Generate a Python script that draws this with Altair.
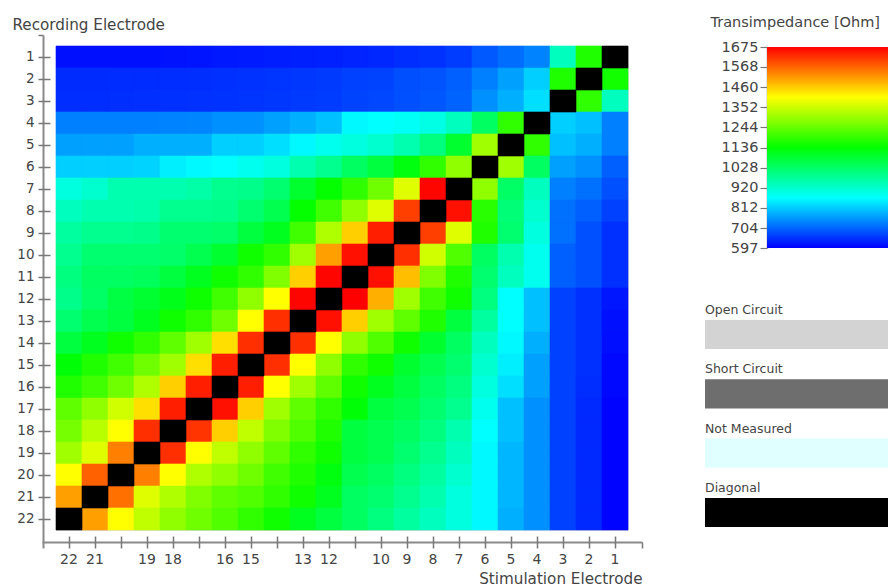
import altair as alt
import pandas as pd

# ---------------- data ----------------
stim_order = [str(s) for s in range(22, 0, -1)]          # columns, left -> right
rec_order = [str(r) for r in range(1, 23)]               # rows, top -> bottom
x_tick_labels = ["22", "21", "", "19", "18", "", "16", "15", "", "13", "12", "",
                 "10", "9", "8", "7", "6", "5", "4", "3", "2", "1"]

# transimpedance [Ohm]; one list per recording electrode (1..22),
# values for stimulation electrodes 22..1; None = diagonal
transimpedance = [
    [614, 614, 614, 614, 616, 618, 622, 625, 628, 630, 631, 634, 638, 645, 650, 660, 690, 712, 735, 934, 1170, None],
    [642, 642, 643, 644, 645, 646, 648, 650, 652, 655, 658, 665, 668, 680, 685, 698, 732, 766, 816, 1170, None, 1155],
    [645, 645, 646, 647, 648, 649, 650, 652, 655, 658, 660, 668, 672, 682, 688, 702, 749, 783, 833, None, 1187, 934],
    [732, 732, 732, 732, 735, 738, 749, 749, 766, 783, 800, 860, 867, 875, 895, 934, 1035, 1187, None, 816, 800, 732],
    [766, 766, 766, 783, 783, 783, 816, 816, 833, 860, 883, 900, 917, 951, 1002, 1086, 1305, None, 1187, 800, 783, 732],
    [816, 816, 816, 820, 850, 860, 867, 883, 900, 951, 985, 1035, 1069, 1120, 1187, 1288, None, 1305, 1035, 766, 749, 698],
    [900, 917, 951, 951, 951, 960, 985, 990, 1019, 1086, 1140, 1187, 1254, 1372, 1670, None, 1288, 1030, 934, 732, 715, 682],
    [934, 951, 951, 955, 985, 985, 990, 1019, 1052, 1140, 1204, 1288, 1372, 1608, None, 1658, 1180, 1010, 917, 715, 698, 665],
    [968, 985, 985, 990, 1019, 1019, 1025, 1069, 1103, 1204, 1322, 1456, 1642, None, 1608, 1372, 1170, 1019, 900, 715, 682, 648],
    [985, 1019, 1019, 1019, 1025, 1052, 1086, 1153, 1187, 1305, 1507, 1658, None, 1625, 1356, 1221, 1035, 951, 883, 698, 682, 648],
    [1002, 1035, 1035, 1040, 1069, 1103, 1153, 1187, 1271, 1456, 1670, None, 1658, 1473, 1271, 1170, 1019, 934, 883, 698, 682, 648],
    [990, 1030, 1065, 1085, 1110, 1150, 1204, 1288, 1406, 1670, None, 1675, 1490, 1305, 1204, 1153, 1002, 867, 800, 665, 648, 620],
    [1019, 1052, 1069, 1103, 1153, 1187, 1254, 1406, 1625, None, 1658, 1456, 1305, 1237, 1170, 1069, 968, 867, 800, 665, 648, 614],
    [1069, 1103, 1153, 1187, 1237, 1305, 1439, 1625, None, 1625, 1406, 1288, 1221, 1153, 1086, 1035, 934, 860, 783, 665, 648, 612],
    [1130, 1170, 1204, 1254, 1305, 1439, 1642, None, 1625, 1406, 1288, 1187, 1153, 1086, 1052, 1019, 917, 850, 766, 665, 648, 605],
    [1170, 1204, 1254, 1322, 1456, 1642, None, 1642, 1406, 1305, 1237, 1153, 1103, 1069, 1035, 1002, 900, 833, 766, 665, 645, 605],
    [1237, 1288, 1356, 1439, 1642, None, 1658, 1456, 1305, 1237, 1187, 1130, 1069, 1052, 1019, 985, 883, 800, 749, 665, 640, 600],
    [1260, 1330, 1406, 1625, None, 1620, 1456, 1339, 1271, 1221, 1170, 1069, 1052, 1035, 1002, 951, 867, 800, 749, 665, 640, 600],
    [1305, 1372, 1541, None, 1625, 1406, 1339, 1288, 1237, 1187, 1153, 1069, 1052, 1019, 985, 934, 860, 790, 749, 665, 640, 600],
    [1406, 1574, None, 1541, 1406, 1322, 1288, 1254, 1204, 1170, 1120, 1052, 1035, 1002, 968, 917, 860, 790, 749, 665, 640, 600],
    [1507, None, 1557, 1372, 1322, 1271, 1237, 1221, 1187, 1153, 1103, 1035, 1019, 985, 951, 900, 860, 790, 749, 665, 640, 600],
    [None, 1507, 1406, 1339, 1288, 1254, 1221, 1187, 1153, 1103, 1069, 1035, 1002, 968, 934, 900, 860, 783, 749, 665, 640, 600],
]

cbar_ticks = [1675, 1568, 1460, 1352, 1244, 1136, 1028, 920, 812, 704, 597]
cmin, cmax = 597, 1675
jet_colors = ["#0000ff", "#00ffff", "#00ff00", "#ffff00", "#ff0000"]

legend_names = ["Open Circuit", "Short Circuit", "Not Measured", "Diagonal"]
legend_colors = ["#d3d3d3", "#6e6e6e", "#e0ffff", "#000000"]

# ---------------- tables ----------------
records = []
for i, rec in enumerate(rec_order):
    for j, stim in enumerate(stim_order):
        records.append({"rec": rec, "stim": stim, "value": transimpedance[i][j]})
df = pd.DataFrame(records)

cb_df = pd.DataFrame({"lo": [cmin], "hi": [cmax], "left": [0], "right": [1]})
sw_df = pd.DataFrame({"name": legend_names, "color": legend_colors,
                      "left": [0] * 4, "right": [1] * 4})

FONT = "DejaVu Sans"
TXT = "#444444"
AX = "#8a8a8a"
TK = "#777777"

W, H = 572, 484
RIGHT = 832   # right end of colour bar / swatches (plot coords)

stops = [cmin + k * (cmax - cmin) / 4 for k in range(5)]
color_scale = alt.Scale(domain=stops, range=jet_colors, interpolate="rgb")

xscale = alt.Scale(domain=stim_order, paddingInner=0, paddingOuter=0)
yscale = alt.Scale(domain=rec_order, paddingInner=0, paddingOuter=0)

stim_js = "[" + ",".join("'%s'" % s for s in stim_order) + "]"
lab_js = "[" + ",".join("'%s'" % s for s in x_tick_labels) + "]"
x_label_expr = lab_js + "[indexof(" + stim_js + ", datum.value)]"

x_axis_main = alt.Axis(
    orient="bottom", offset=12, domain=False,
    tickColor=TK, tickWidth=1.5, tickSize=6,
    labelExpr=x_label_expr, labelAngle=0, labelFontSize=14, labelColor=TXT,
    labelPadding=4, labelFont=FONT,
    titleX=586, titleY=36, titleAlign="right", titleBaseline="middle",
    titleFontSize=15.2, titleFontWeight="normal", titleColor=TXT, titleFont=FONT,
)
y_axis_main = alt.Axis(
    orient="left", offset=13, domain=False,
    tickColor=TK, tickWidth=1.5, tickSize=5,
    labelFontSize=13.5, labelColor=TXT, labelPadding=4, labelFont=FONT,
    titleAngle=0, titleX=-31, titleY=-22, titleAlign="left", titleBaseline="middle",
    titleFontSize=15.2, titleFontWeight="normal", titleColor=TXT, titleFont=FONT,
)
x_axis_in = alt.Axis(orient="bottom", offset=6, domain=False, labels=False,
                     tickColor=TK, tickWidth=1.5, tickSize=6)
y_axis_in = alt.Axis(orient="left", offset=6, domain=False, labels=False,
                     tickColor=TK, tickWidth=1.5, tickSize=7)

cells = alt.Chart(df).transform_filter("isValid(datum.value)").mark_rect(strokeWidth=0.6).encode(
    x=alt.X("stim:N", sort=stim_order, scale=xscale, axis=x_axis_main, title="Stimulation Electrode"),
    y=alt.Y("rec:N", sort=rec_order, scale=yscale, axis=y_axis_main, title="Recording Electrode"),
    color=alt.Color("value:Q", scale=color_scale, legend=None),
    stroke=alt.Stroke("value:Q", scale=color_scale, legend=None),
)
diag = alt.Chart(df).transform_filter("!isValid(datum.value)").mark_rect(
    color="#000000", stroke="#000000", strokeWidth=0.6
).encode(
    x=alt.X("stim:N", sort=stim_order, scale=xscale, axis=x_axis_in, title=None),
    y=alt.Y("rec:N", sort=rec_order, scale=yscale, axis=y_axis_in, title=None),
)
heat = alt.layer(cells, diag).resolve_axis(x="independent", y="independent")

# axis lines that run a little past the cells, as in the original
frame = alt.Chart(cb_df).mark_point(opacity=0).encode(
    x=alt.X("right:Q", scale=alt.Scale(domain=[0, 1], range=[-14, 586]),
            axis=alt.Axis(orient="bottom", offset=12, values=[1], labels=False, grid=False,
                          domainColor=AX, domainWidth=2, tickColor=TK, tickWidth=1.5, tickSize=6),
            title=None),
    y=alt.Y("right:Q", scale=alt.Scale(domain=[0, 1], range=[502, -11]),
            axis=alt.Axis(orient="left", offset=13, values=[1], labels=False, grid=False,
                          domainColor=AX, domainWidth=2, tickColor=TK, tickWidth=1.5, tickSize=5),
            title=None),
)

# colour bar (key of the colour scale)
gradient = {
    "gradient": "linear", "x1": 0, "x2": 0, "y1": 1, "y2": 0,
    "stops": [{"offset": k / 4, "color": c} for k, c in enumerate(jet_colors)],
}
cbar = alt.Chart(cb_df).mark_rect(fill=gradient, strokeWidth=0).encode(
    x=alt.X("left:Q", scale=alt.Scale(domain=[0, 1], range=[711, RIGHT]), axis=None),
    x2="right:Q",
    y=alt.Y("lo:Q", scale=alt.Scale(domain=[cmin, cmax], range=[202, 1], nice=False, zero=False),
            axis=alt.Axis(orient="left", offset=-711, values=cbar_ticks, grid=False,
                          domainColor=AX, domainWidth=1.5, tickColor=TK, tickWidth=1.2,
                          tickSize=7, labelFontSize=14.5, labelColor=TXT, labelPadding=2,
                          labelFont=FONT, labelFlush=False, labelOverlap=False, labelBound=False,
                          format="d", titleAngle=0, titleX=-57, titleY=-24, titleAlign="left",
                          titleBaseline="middle", titleFontSize=14.5, titleFontWeight="normal",
                          titleColor=TXT, titleFont=FONT),
            title="Transimpedance [Ohm]"),
    y2="hi:Q",
)

# status swatches
sw_y = alt.Y("name:N", sort=legend_names,
             scale=alt.Scale(domain=legend_names, range=[274, 481], paddingInner=0.51, paddingOuter=0),
             axis=None)
sw_x = alt.X("left:Q", scale=alt.Scale(domain=[0, 1], range=[649, RIGHT]), axis=None)
sw_rect = alt.Chart(sw_df).mark_rect(strokeWidth=0).encode(
    x=sw_x, x2="right:Q", y=sw_y, color=alt.Color("color:N", scale=None),
)
sw_text = alt.Chart(sw_df).mark_text(align="left", baseline="middle", dy=-24.5,
                                     fontSize=12.5, color=TXT, font=FONT).encode(
    x=sw_x, y=sw_y, text="name:N",
)
swatch = alt.layer(sw_rect, sw_text)

chart = alt.layer(heat, frame, cbar, swatch).resolve_scale(
    x="independent", y="independent"
).properties(
    width=W, height=H,
    padding={"left": 4, "top": 6, "right": 0, "bottom": 0},
    background="white",
).configure_view(stroke=None).configure(font=FONT)

chart.save("out.html", embed_options={"renderer": "svg", "actions": False})
